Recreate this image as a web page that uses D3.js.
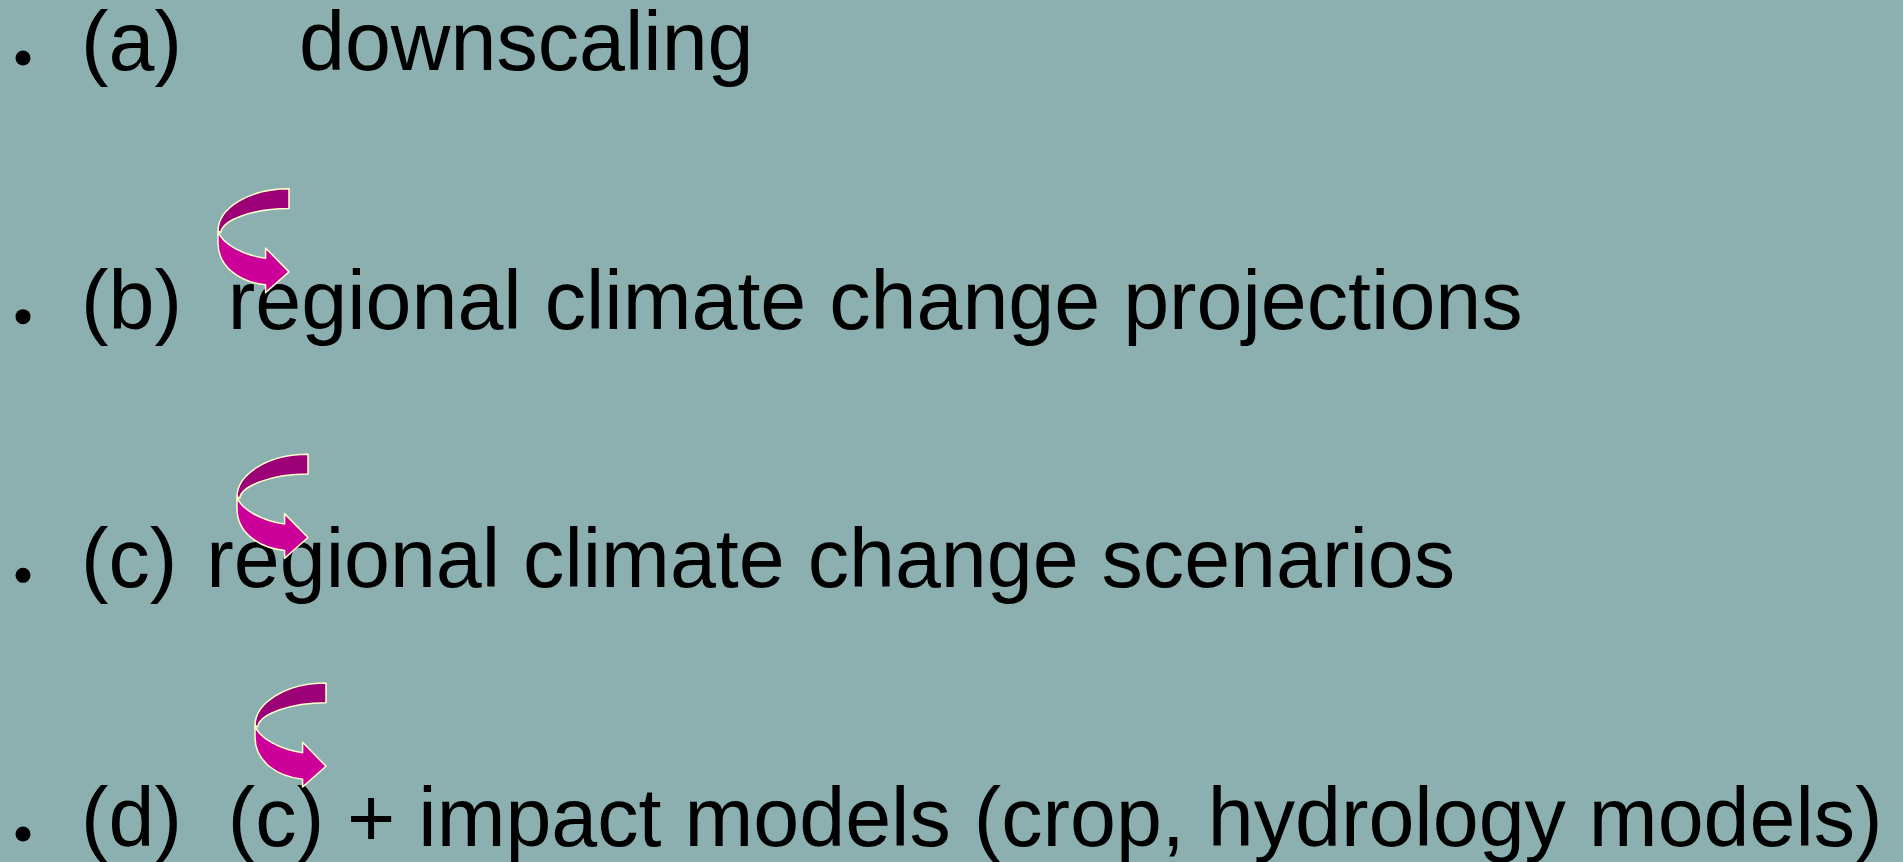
<!DOCTYPE html>
<html>
<head>
<meta charset="utf-8">
<script src="https://cdn.jsdelivr.net/npm/d3@7"></script>
<style>
  html, body { margin: 0; padding: 0; background: #8CB0B0; overflow: hidden; }
  svg { display: block; }
  text { font-family: "Liberation Sans", Arial, sans-serif; white-space: pre; }
</style>
</head>
<body>
<svg id="slide"></svg>
<script>
// ---- content ----
const itemLabels = ["(a)", "(b)", "(c)", "(d)"];
const itemSeparators = ["", "  ", " ", "  "];
const itemTexts = [
  "downscaling",
  "regional climate change projections",
  "regional climate change scenarios",
  "(c) + impact models (crop, hydrology models)"
];
// arrows connect one item to the next (drawn above items b, c, d)
const arrowTargets = [1, 2, 3];

// ---- layout ----
const W = 1903, H = 862;
const fontSize = 82.6;
const textX = 81;
const tabX = 299;
const extraGap = [0, 0, 6, 0];
const bulletX = 23, bulletR = 7.5;
const arrowW = 71, arrowH = 104;
const arrowLayout = { 1: { x: 218, dy: -140 }, 2: { x: 237, dy: -133 }, 3: { x: 255, dy: -163 } };

const svg = d3.select("#slide").attr("width", W).attr("height", H);
svg.append("rect").attr("width", W).attr("height", H).attr("fill", "#8CB0B0");

const y = d3.scaleLinear().domain([0, itemLabels.length - 1]).range([70, 846]);

const items = itemLabels.map((l, i) => ({ i, label: l, sep: itemSeparators[i], text: itemTexts[i] }));

const g = svg.append("g");
const rows = g.selectAll("g.row").data(items).join("g").attr("class", "row");

rows.append("circle")
  .attr("cx", bulletX)
  .attr("cy", d => y(d.i) - 12)
  .attr("r", bulletR)
  .attr("fill", "#000");

const t = rows.append("text")
  .attr("x", textX)
  .attr("y", d => y(d.i))
  .attr("font-size", fontSize)
  .attr("fill", "#000");

t.each(function(d) {
  const el = d3.select(this);
  el.append("tspan").text(d.label + d.sep);
  const body = el.append("tspan").text(d.text);
  if (d.i === 0) body.attr("x", tabX);
  else body.attr("dx", extraGap[d.i]);
});

// ---- curved arrows (PowerPoint-style curved right arrow) ----
function arrowPaths(x0, y0) {
  const sx = d3.scaleLinear().domain([0, 1]).range([x0, x0 + arrowW]);
  const sy = d3.scaleLinear().domain([0, 1]).range([y0, y0 + arrowH]);
  const P = (u, v) => [sx(u), sy(v)];
  const back = d3.path();
  back.moveTo(...P(1, 0));
  back.bezierCurveTo(...P(0.45, 0), ...P(0, 0.185), ...P(0, 0.41));
  back.lineTo(...P(0.04, 0.42));
  back.bezierCurveTo(...P(0.06, 0.30), ...P(0.5, 0.19), ...P(1, 0.19));
  back.closePath();

  const front = d3.path();
  front.moveTo(...P(0, 0.41));
  front.bezierCurveTo(...P(0.06, 0.53), ...P(0.35, 0.64), ...P(0.67, 0.67));
  front.lineTo(...P(0.67, 0.57));
  front.lineTo(...P(1, 0.80));
  front.lineTo(...P(0.67, 1.0));
  front.lineTo(...P(0.67, 0.925));
  front.bezierCurveTo(...P(0.32, 0.90), ...P(0, 0.76), ...P(0, 0.52));
  front.closePath();
  return { back: back.toString(), front: front.toString() };
}

svg.append("g").selectAll("g.arrow")
  .data(arrowTargets)
  .join("g").attr("class", "arrow")
  .each(function(k) {
    const lay = arrowLayout[k];
    const p = arrowPaths(lay.x, y(k) + lay.dy);
    const a = d3.select(this);
    a.append("path").attr("d", p.back).attr("fill", "#9C0076")
      .attr("stroke", "#FFFFCC").attr("stroke-width", 1.5).attr("stroke-linejoin", "round");
    a.append("path").attr("d", p.front).attr("fill", "#CC0099")
      .attr("stroke", "#FFFFCC").attr("stroke-width", 1.5).attr("stroke-linejoin", "round");
  });
</script>
</body>
</html>
